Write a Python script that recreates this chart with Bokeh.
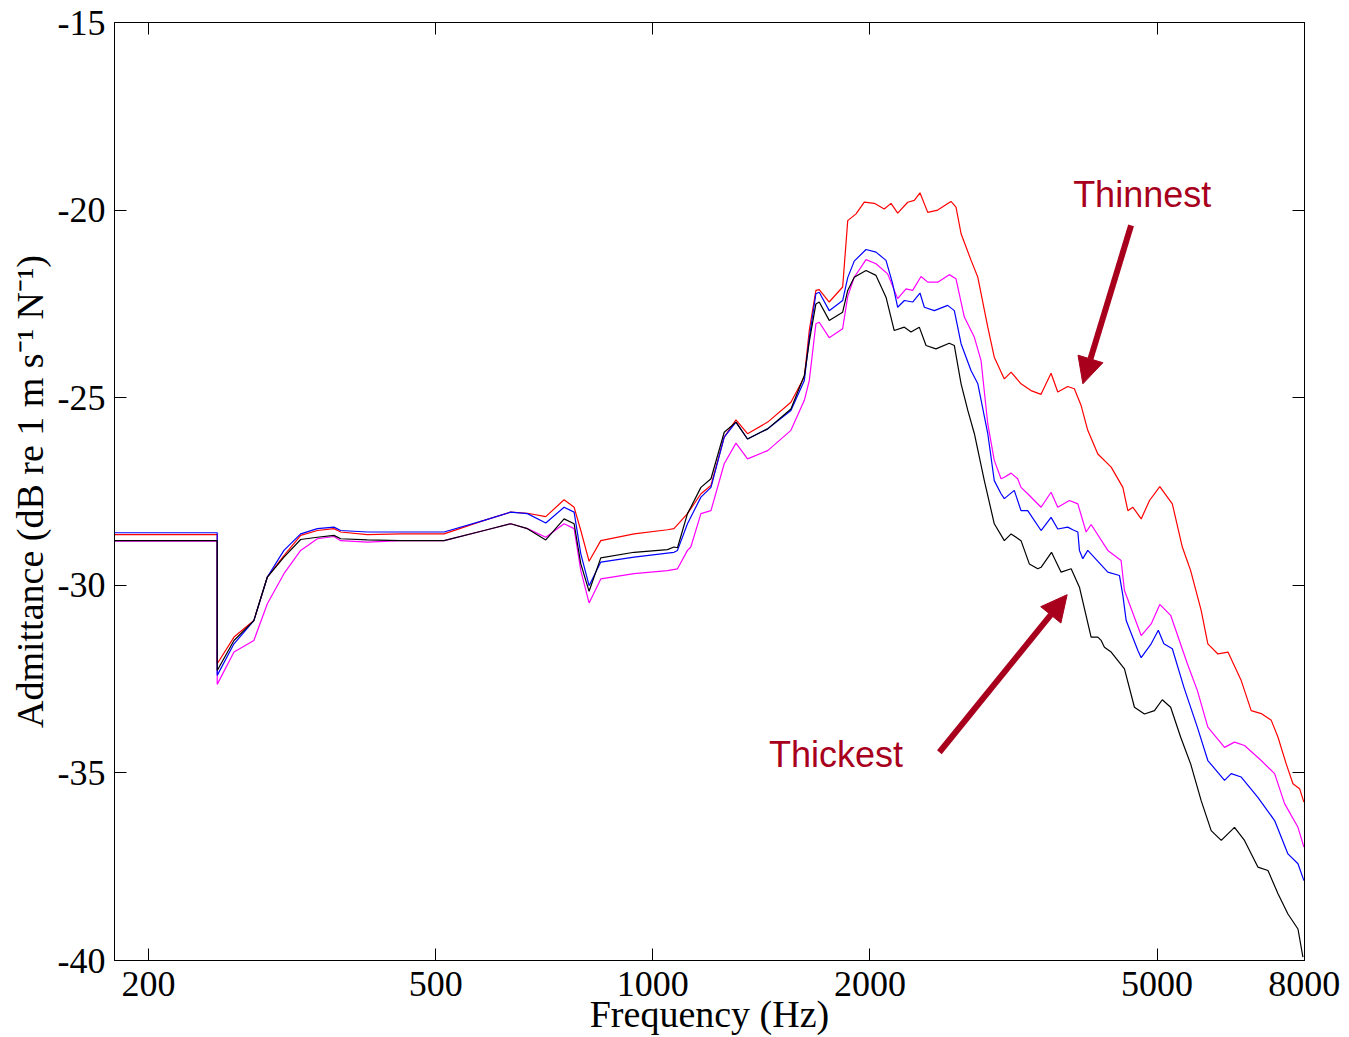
from bokeh.plotting import figure
from bokeh.models import Range1d, LogAxis, LinearAxis, FixedTicker, Arrow, NormalHead, Label
from bokeh.embed import file_html
from bokeh.resources import INLINE

# ---------------- data (Hz, dB re 1 m s^-1 N^-1) ----------------
freq_red = [179.4, 249, 249, 262.7, 279.9, 292.2, 308.1, 325, 342.8, 361.4, 369.3, 402, 447.3, 513.6, 583.7,
            635.4, 670.2, 710.6, 753.4, 777.9, 794.7, 816, 847, 942, 1048, 1070, 1117, 1166, 1204, 1256,
            1304, 1353, 1443, 1554, 1622, 1648, 1683, 1701, 1756, 1833, 1863, 1913, 1964, 2028, 2093,
            2139, 2185, 2256, 2304, 2346, 2405, 2483, 2590, 2632, 2675, 2762, 2822, 2913, 2974, 3071,
            3138, 3239, 3344, 3453, 3508, 3565, 3642, 3760, 3840, 3924, 4008, 4139, 4319, 4483, 4555,
            4629, 4753, 4881, 5044, 5250, 5420, 5566, 5756, 5880, 6072, 6270, 6541, 6753, 6972, 7200,
            7356, 7551, 7716, 7880, 7990]
db_red = [-28.65, -28.65, -32.09, -31.38, -30.94, -29.78, -29.21, -28.67, -28.54, -28.49, -28.58, -28.65, -28.63, -28.63, -28.27,
          -28.05, -28.08, -28.17, -27.72, -27.92, -28.54, -29.36, -28.81, -28.63, -28.52, -28.49, -28.09, -27.56, -27.34, -26.05,
          -25.59, -25.96, -25.65, -25.12, -24.45, -23.2, -22.14, -22.12, -22.45, -22.05, -20.28, -20.10, -19.79, -19.82, -19.97,
          -19.82, -20.08, -19.79, -19.74, -19.54, -20.06, -20.0, -19.77, -19.92, -20.63, -21.34, -21.79, -23.12, -23.92, -24.50,
          -24.32, -24.63, -24.81, -24.91, -24.63, -24.35, -24.85, -24.70, -24.76, -25.21, -25.87, -26.50, -26.85, -27.39, -28.01,
          -27.92, -28.23, -27.74, -27.37, -27.83, -28.98, -29.61, -30.67, -31.56, -31.83, -31.78, -32.54, -33.34, -33.42, -33.60,
          -34.05, -34.76, -35.29, -35.42, -35.78]

freq_blue = [179.4, 249, 249, 262.7, 279.9, 292.2, 308.1, 325, 342.8, 361.4, 369.3, 402, 447.3, 513.6, 583.7,
             635.4, 670.2, 710.6, 753.4, 777.9, 794.7, 816, 847, 942, 1048, 1070, 1082, 1117, 1166, 1204,
             1256, 1304, 1353, 1443, 1554, 1622, 1648, 1683, 1701, 1756, 1833, 1863, 1902, 1975, 2039,
             2105, 2150, 2185, 2232, 2292, 2346, 2379, 2456, 2563, 2618, 2675, 2762, 2822, 2913, 2974,
             3039, 3071, 3170, 3239, 3309, 3453, 3565, 3642, 3760, 3821, 3883, 3903, 3945, 4008, 4273,
             4435, 4483, 4531, 4703, 4753, 4907, 5020, 5110, 5250, 5448, 5686, 5880, 6202, 6335, 6541,
             6898, 7277, 7593, 7840, 7990]
db_blue = [-28.60, -28.60, -32.40, -31.56, -30.94, -29.78, -29.07, -28.63, -28.49, -28.45, -28.54, -28.58, -28.58, -28.58, -28.27,
           -28.05, -28.09, -28.34, -27.92, -28.05, -29.16, -30.01, -29.38, -29.25, -29.14, -29.12, -29.07, -28.36, -27.65, -27.39,
           -26.05, -25.65, -26.10, -25.83, -25.34, -24.54, -23.4, -22.23, -22.19, -22.68, -22.41, -21.8, -21.36, -21.05, -21.12,
           -21.34, -21.96, -22.59, -22.41, -22.45, -22.21, -22.59, -22.68, -22.54, -22.68, -23.56, -24.28, -24.63, -25.96, -27.21,
           -27.56, -27.69, -27.47, -28.01, -28.01, -28.54, -28.19, -28.50, -28.45, -28.52, -28.58, -29.07, -29.29, -29.07, -29.65,
           -29.74, -30.27, -30.94, -31.74, -31.93, -31.56, -31.20, -31.56, -31.69, -32.72, -33.78, -34.67, -35.20, -35.02, -35.11,
           -35.65, -36.27, -37.16, -37.42, -37.87]

freq_magenta = [179.4, 249, 249, 262.7, 279.9, 292.2, 308.1, 325, 342.8, 361.4, 369.3, 402, 447.3, 513.6, 583.7,
                635.4, 670.2, 710.6, 753.4, 777.9, 794.7, 816, 847, 942, 1048, 1082, 1117, 1129, 1166, 1204,
                1256, 1304, 1353, 1443, 1554, 1622, 1648, 1683, 1701, 1756, 1833, 1863, 1902, 1975, 2039,
                2116, 2185, 2244, 2292, 2354, 2405, 2483, 2576, 2632, 2703, 2791, 2851, 2913, 2974, 3039,
                3071, 3138, 3205, 3239, 3309, 3453, 3565, 3642, 3780, 3883, 3987, 4051, 4273, 4458, 4506,
                4753, 4907, 5044, 5222, 5508, 5686, 5880, 6202, 6402, 6610, 6972, 7277, 7512, 7840, 7990]
db_magenta = [-28.82, -28.82, -32.64, -31.78, -31.47, -30.49, -29.69, -29.07, -28.76, -28.70, -28.81, -28.85, -28.81, -28.81, -28.54,
              -28.36, -28.49, -28.72, -28.36, -28.49, -29.61, -30.47, -29.83, -29.69, -29.61, -29.56, -29.07, -28.98, -28.09, -28.01,
              -26.76, -26.21, -26.63, -26.41, -25.87, -25.07, -24.54, -23.03, -22.99, -23.40, -23.16, -22.3, -21.79, -21.32, -21.43,
              -21.70, -22.36, -22.10, -22.14, -21.77, -21.92, -21.92, -21.72, -21.83, -22.85, -23.39, -24.01, -25.70, -26.67, -27.16,
              -27.12, -27.01, -27.16, -27.39, -27.56, -27.92, -27.52, -27.92, -27.74, -27.83, -28.58, -28.38, -29.07, -29.34, -30.14,
              -31.34, -31.03, -30.51, -30.80, -32.09, -32.80, -33.78, -34.32, -34.18, -34.27, -34.67, -35.02, -35.82, -36.45, -36.98]

freq_black = [179.4, 249, 249, 262.7, 279.9, 292.2, 308.1, 325, 342.8, 361.4, 369.3, 402, 447.3, 513.6, 583.7,
              635.4, 670.2, 710.6, 753.4, 777.9, 794.7, 816, 847, 942, 1048, 1070, 1082, 1117, 1129, 1166,
              1204, 1256, 1304, 1353, 1443, 1554, 1622, 1648, 1683, 1701, 1756, 1833, 1863, 1902, 1975,
              2039, 2105, 2161, 2232, 2280, 2341, 2392, 2469, 2576, 2618, 2675, 2733, 2791, 2881, 2974,
              3071, 3138, 3239, 3326, 3417, 3453, 3570, 3681, 3801, 3903, 4051, 4139, 4183, 4227, 4319,
              4506, 4652, 4803, 4959, 5084, 5222, 5392, 5566, 5756, 5943, 6137, 6402, 6610, 6898, 7124,
              7356, 7593, 7840, 7965]
db_black = [-28.81, -28.81, -32.27, -31.47, -30.94, -29.78, -29.25, -28.78, -28.72, -28.67, -28.76, -28.79, -28.81, -28.81, -28.54,
            -28.36, -28.49, -28.79, -28.23, -28.36, -29.43, -30.16, -29.27, -29.12, -29.05, -28.98, -29.0, -28.09, -27.92, -27.39,
            -27.16, -25.92, -25.65, -26.10, -25.83, -25.30, -24.41, -23.5, -22.50, -22.45, -22.94, -22.72, -22.14, -21.79, -21.61,
            -21.74, -22.32, -23.21, -23.12, -23.25, -23.12, -23.61, -23.70, -23.55, -23.61, -24.63, -25.34, -25.96, -27.21, -28.36,
            -28.81, -28.63, -28.81, -29.43, -29.56, -29.52, -29.12, -29.65, -29.56, -30.05, -31.38, -31.38, -31.47, -31.65, -31.78,
            -32.23, -33.25, -33.43, -33.34, -33.05, -33.25, -34.05, -34.76, -35.74, -36.54, -36.80, -36.45, -36.80, -37.51, -37.60,
            -38.22, -38.76, -39.16, -39.91]

x_ticks = [200, 500, 1000, 2000, 5000, 8000]
y_ticks = [-40, -35, -30, -25, -20, -15]

# ---------------- figure ----------------
p = figure(width=1349, height=1037, x_axis_type="log",
           x_range=Range1d(179.4, 8005), y_range=Range1d(-40, -15),
           output_backend="svg", toolbar_location=None,
           min_border_left=114, min_border_right=45, min_border_top=22, min_border_bottom=77,
           background_fill_color="white", border_fill_color="white")
p.grid.visible = False
p.outline_line_color = "black"
p.outline_line_width = 1

serif = "Liberation Serif"

def style_axis(ax):
    ax.major_tick_in = 12
    ax.major_tick_out = 0
    ax.minor_tick_line_color = None
    ax.axis_line_color = "black"
    ax.major_tick_line_color = "black"
    ax.major_label_text_font = serif
    ax.major_label_text_color = "black"
    ax.axis_label_text_font = serif
    ax.axis_label_text_font_style = "normal"
    ax.axis_label_text_color = "black"

xa = p.xaxis[0]
style_axis(xa)
xa.ticker = FixedTicker(ticks=x_ticks)
xa.major_label_overrides = {t: str(t) for t in x_ticks}
xa.major_label_text_font_size = "36px"
xa.major_label_standoff = 11
xa.axis_label = "Frequency (Hz)"
xa.axis_label_text_font_size = "38px"
xa.axis_label_standoff = -6

ya = p.yaxis[0]
style_axis(ya)
ya.ticker = FixedTicker(ticks=y_ticks)
ya.major_label_overrides = {t: str(t) for t in y_ticks}
ya.major_label_text_font_size = "36px"
ya.major_label_standoff = 9
ya.axis_label = "Admittance (dB re 1 m s\u207b\u00b9 N\u207b\u00b9)"
ya.axis_label_text_font_size = "38px"
ya.axis_label_standoff = 4

top = LogAxis(ticker=FixedTicker(ticks=x_ticks), major_label_overrides={t: "" for t in x_ticks})
style_axis(top)
top.major_label_standoff = 0
p.add_layout(top, "above")

right = LinearAxis(ticker=FixedTicker(ticks=y_ticks), major_label_overrides={t: "" for t in y_ticks})
style_axis(right)
right.major_label_standoff = 0
p.add_layout(right, "right")

# ---------------- curves ----------------
p.line(freq_magenta, db_magenta, line_color="#ff00ff", line_width=1.2)
p.line(freq_red, db_red, line_color="#ff0000", line_width=1.2)
p.line(freq_blue, db_blue, line_color="#0000ff", line_width=1.2)
p.line(freq_black, db_black, line_color="#000000", line_width=1.2)

# ---------------- annotations ----------------
ann = "#a8001c"
p.add_layout(Arrow(end=NormalHead(size=26, fill_color=ann, line_color=ann),
                   x_start=4602, y_start=-20.41, x_end=3946, y_end=-24.63,
                   line_color=ann, line_width=6))
p.add_layout(Arrow(end=NormalHead(size=26, fill_color=ann, line_color=ann),
                   x_start=2496, y_start=-34.45, x_end=3753, y_end=-30.25,
                   line_color=ann, line_width=6))
p.add_layout(Label(x=4768, y=-19.58, text="Thinnest", text_font="Liberation Sans",
                   text_font_size="36px", text_color=ann, text_align="center", text_baseline="middle"))
p.add_layout(Label(x=1794, y=-34.51, text="Thickest", text_font="Liberation Sans",
                   text_font_size="36px", text_color=ann, text_align="center", text_baseline="middle"))

open("out.html", "w").write(file_html(p, INLINE))
